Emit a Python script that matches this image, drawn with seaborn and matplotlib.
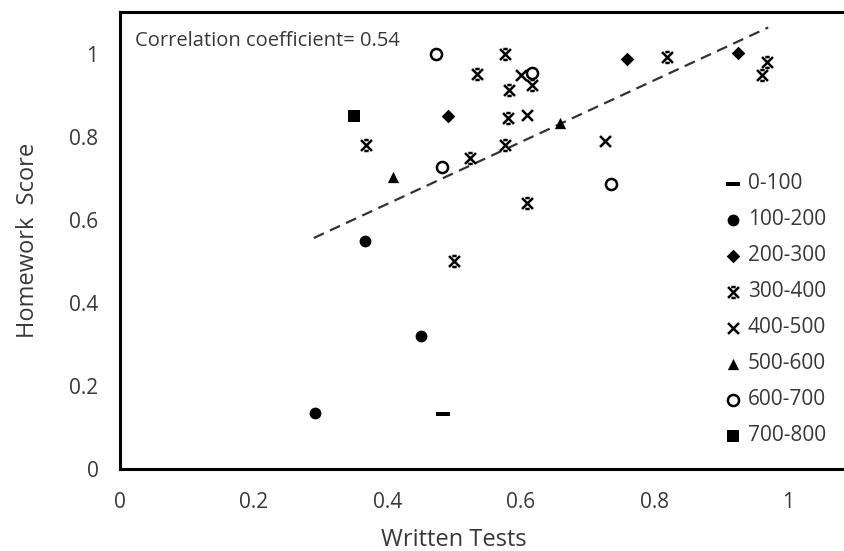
import matplotlib
matplotlib.use("Agg")
import matplotlib.pyplot as plt
from matplotlib.path import Path
import seaborn as sns
import numpy as np

# Data (Written Tests vs Homework Score)
x_0_100 = [0.484]
y_0_100 = [0.133]

x_100_200 = [0.292, 0.367, 0.451]
y_100_200 = [0.135, 0.549, 0.320]

x_200_300 = [0.491, 0.759, 0.925]
y_200_300 = [0.851, 0.986, 1.002]

x_300_400 = [0.576, 0.534, 0.582, 0.581, 0.368, 0.576, 0.524, 0.500,
             0.617, 0.819, 0.968, 0.961, 0.609]
y_300_400 = [1.000, 0.952, 0.913, 0.846, 0.781, 0.781, 0.749, 0.501,
             0.925, 0.993, 0.981, 0.949, 0.641]

x_400_500 = [0.600, 0.609, 0.726]
y_400_500 = [0.949, 0.853, 0.790]

x_500_600 = [0.409, 0.659]
y_500_600 = [0.704, 0.834]

x_600_700 = [0.473, 0.482, 0.617, 0.735]
y_600_700 = [0.998, 0.728, 0.954, 0.687]

x_700_800 = [0.350]
y_700_800 = [0.851]

trend_x = [0.29, 0.97]
trend_y = [0.556, 1.063]

corr_text = "Correlation coefficient= 0.54"

# Style
sns.set_style("white")
plt.rcParams['font.family'] = ['Open Sans', 'DejaVu Sans']
text_gray = '#383838'

# custom markers: x with short caps, and a flat dash
star_path = Path(
    [(-1, -1), (1, 1), (-1, 1), (1, -1), (-0.4, 1), (0.4, 1), (-0.4, -1), (0.4, -1)],
    [Path.MOVETO, Path.LINETO, Path.MOVETO, Path.LINETO,
     Path.MOVETO, Path.LINETO, Path.MOVETO, Path.LINETO])
dash_path = Path([(-1, -0.3), (1, -0.3), (1, 0.3), (-1, 0.3), (-1, -0.3)],
                 [Path.MOVETO, Path.LINETO, Path.LINETO, Path.LINETO, Path.CLOSEPOLY])

fig = plt.figure(figsize=(8.45, 5.51), dpi=100)
ax = fig.add_axes([0.142, 0.149, 0.858, 0.829])

# trend line
ax.plot(trend_x, trend_y, color='#333333', linestyle=(0, (5, 3)), linewidth=1.6,
        label='_nolegend_')

groups = [
    ('0-100', x_0_100, y_0_100, dash_path, 'black', 110, 0),
    ('100-200', x_100_200, y_100_200, 'o', 'black', 72, 0),
    ('200-300', x_200_300, y_200_300, 'D', 'black', 48, 0),
    ('300-400', x_300_400, y_300_400, star_path, 'black', 62, 1.8),
    ('400-500', x_400_500, y_400_500, 'x', 'black', 62, 1.8),
    ('500-600', x_500_600, y_500_600, '^', 'black', 66, 0),
    ('600-700', x_600_700, y_600_700, 'o', 'white', 64, 1.8),
    ('700-800', x_700_800, y_700_800, 's', 'black', 66, 0),
]
for label, xs, ys, marker, face, size, lw in groups:
    sns.scatterplot(x=xs, y=ys, marker=marker, s=size, color=face,
                    edgecolor='black', linewidth=lw, label=label, ax=ax, zorder=3)

ax.set_xlim(0, 1.085)
ax.set_ylim(0, 1.1)
ax.set_xticks([0, 0.2, 0.4, 0.6, 0.8, 1.0])
ax.set_xticklabels(['0', '0.2', '0.4', '0.6', '0.8', '1'])
ax.set_yticks([0, 0.2, 0.4, 0.6, 0.8, 1.0])
ax.set_yticklabels(['0', '0.2', '0.4', '0.6', '0.8', '1'])
ax.set_xticks(np.arange(0.1, 1.05, 0.2), minor=True)
ax.set_yticks(np.arange(0.1, 1.05, 0.2), minor=True)
ax.tick_params(which='major', direction='inout', length=9, width=1.6,
               colors='black', labelcolor=text_gray, labelsize=15)
ax.tick_params(axis='x', which='major', pad=12)
ax.tick_params(axis='y', which='major', pad=11)
ax.tick_params(which='minor', direction='in', length=4, width=1.4, colors='black')

for side in ['left', 'bottom', 'top']:
    ax.spines[side].set_color('black')
    ax.spines[side].set_linewidth(2.2)
ax.spines['right'].set_visible(False)

ax.set_xlabel('Written Tests', fontsize=17, color=text_gray)
ax.set_ylabel('Homework  Score', fontsize=17, color=text_gray)
ax.xaxis.set_label_coords(0.5 / 1.085, -0.13)
ax.yaxis.set_label_coords(-0.11, 0.5)

ax.text(0.021, 0.937, corr_text, transform=ax.transAxes, fontsize=14.5,
        color=text_gray, va='center', ha='left')

ax.legend(loc='upper left', bbox_to_anchor=(0.82, 0.665), frameon=False,
          fontsize=15, labelcolor=text_gray, handletextpad=0.2,
          labelspacing=0.72, borderaxespad=0, handlelength=1.0)

fig.savefig('out.png', dpi=100)
